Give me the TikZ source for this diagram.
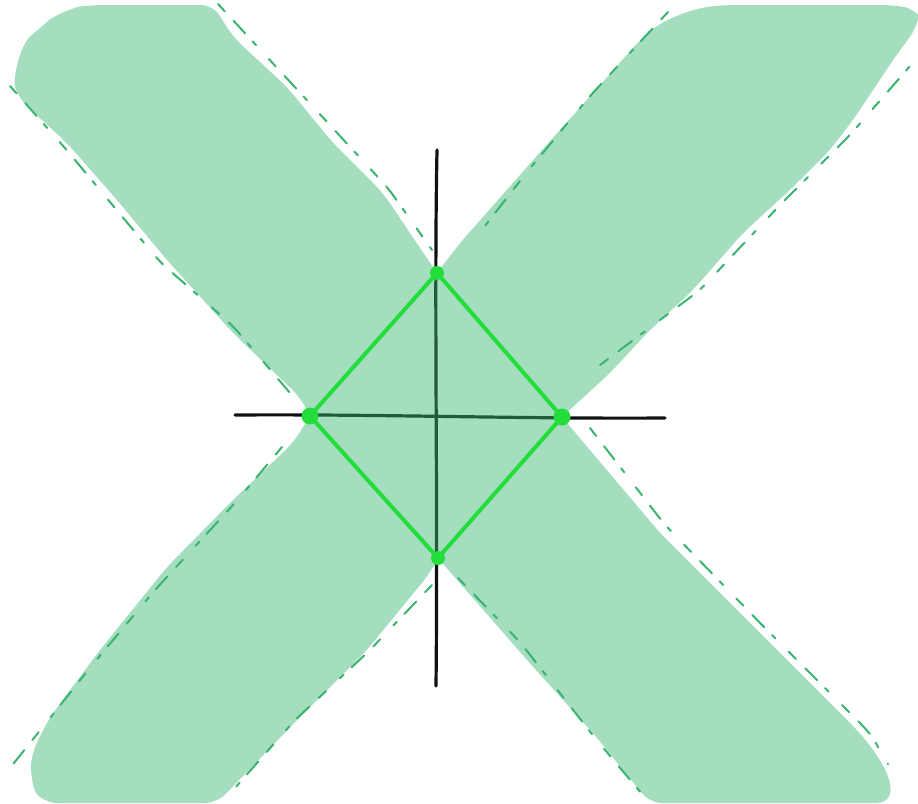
\documentclass[tikz,border=0pt]{standalone}
\usepackage{xcolor}
\definecolor{bandgreen}{HTML}{38B472}
\definecolor{dashgreen}{HTML}{3AB46E}
\definecolor{rhombgreen}{HTML}{22DD3A}
\definecolor{axisblack}{HTML}{111111}
\usepackage{tikz}
\usetikzlibrary{calc}
\tikzset{
  xband/.style    ={fill=bandgreen, fill opacity=0.45, rounded corners=12pt},
  sketchdash/.style={draw=dashgreen, line width=2pt, line cap=round, rounded corners=10pt,
                    dash pattern=on 10pt off 13pt on 17pt off 11pt on 5pt off 19pt},
  axisline/.style ={draw=axisblack, line width=3.2pt, line cap=round},
  rhombline/.style={draw=rhombgreen, line width=4pt, line join=round},
  vertex/.style   ={circle, fill=rhombgreen, inner sep=0pt, minimum size=15pt},
}

\begin{document}
\begin{tikzpicture}[x=1pt, y=-1pt]
  \useasboundingbox (0,0) rectangle (918,803);
  % corner points of the overlap
  \coordinate (vtop)   at (437,273);
  \coordinate (vright) at (562,417);
  \coordinate (vbot)   at (438,558);
  \coordinate (vleft)  at (310,416);
  % axis ends
  \coordinate (ytop) at (437,150);
  \coordinate (ybot) at (436,686);
  \coordinate (xl)   at (235,415);
  \coordinate (xr)   at (665,418);
  % axes (dimmed later by the bands)
  \draw[axisline] (ytop) .. controls (434,300) and (438,500) .. (ybot);
  \draw[axisline] (xl) .. controls (380,414) and (520,419) .. (xr);
  % sketchy outlines
  \draw[sketchdash] (218,4) -- (292,84) -- (388,188) -- (432,250);
  \draw[sketchdash] (590,428) -- (665,525) -- (765,628) -- (865,728)
                    .. controls (875,740) and (880,752) .. (888,764);
  \draw[sketchdash] (10,86) -- (65,148) -- (160,262) -- (233,326) -- (296,400);
  \draw[sketchdash] (458,578) -- (520,642) -- (595,738) -- (647,800);
  \draw[sketchdash] (668,12) -- (640,42) -- (590,96) -- (527,172) -- (474,240);
  \draw[sketchdash] (282,447) -- (235,503) -- (155,590) -- (93,664) -- (50,718) -- (10,768);
  \draw[sketchdash] (432,585) -- (368,652) -- (295,720) -- (226,798);
  \draw[sketchdash] (600,365) -- (700,290) -- (780,205) -- (850,135) -- (917,58);
  % the two bands, one path so the overlap is not darker
  \fill[xband]
    % NW-SE band
    (150,5) -- (213,5) -- (233,37) -- (287,87) -- (333,143) -- (383,193) -- (vtop)
    -- (vright) -- (660,533) -- (760,633) -- (860,733)
    .. controls (885,765) and (891,780) .. (890,803) -- (650,803) -- (593,733)
    -- (527,660) -- (vbot) -- (vleft) -- (300,397) -- (233,333) -- (167,260)
    -- (117,200) -- (67,143) -- (20,100)
    .. controls (12,80) and (20,45) .. (40,28) .. controls (55,15) and (75,7) .. (93,5) -- cycle
    % NE-SW band
    (800,5) -- (893,5) .. controls (910,8) and (919,15) .. (917,27)
    -- (893,60) -- (853,120) -- (830,150) -- (793,187) -- (743,233) -- (693,290)
    -- (647,333) -- (610,373) -- (vright) -- (vbot) -- (430,573) -- (367,650)
    -- (300,717) -- (217,803) -- (45,803)
    .. controls (33,790) and (30,770) .. (33,750) -- (50,717) -- (100,650)
    -- (167,567) -- (233,500) -- (293,443) -- (vleft) -- (vtop) -- (460,243)
    -- (527,167) -- (593,93) -- (640,40) .. controls (660,22) and (690,8) .. (727,5) -- cycle;
  % rhombus
  \draw[rhombline] (vtop) -- (vright) -- (vbot) -- (vleft) -- cycle;
  \node[vertex, minimum size=14pt] (dtop)   at (vtop)   {};
  \node[vertex, minimum size=17pt] (dright) at (vright) {};
  \node[vertex, minimum size=14pt] (dbot)   at (vbot)   {};
  \node[vertex, minimum size=17pt] (dleft)  at (vleft)  {};
\end{tikzpicture}
\end{document}
